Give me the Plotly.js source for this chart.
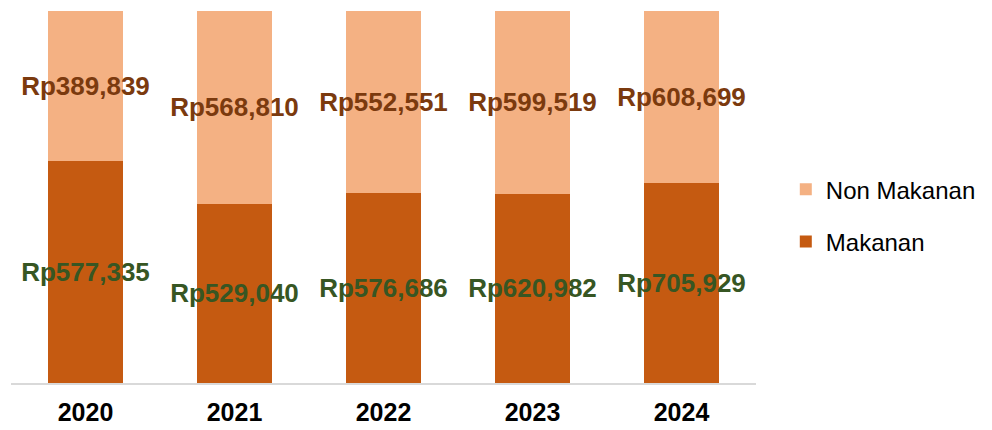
<!DOCTYPE html>
<html>
<head>
<meta charset="utf-8">
<script src="https://cdn.plot.ly/plotly-3.0.1.min.js"></script>
<style>html,body{margin:0;padding:0;background:#fff;}#chart{width:992px;height:430px;}</style>
</head>
<body>
<div id="chart"></div>
<script>
const years = ['2020', '2021', '2022', '2023', '2024'];
const makanan = [577335, 529040, 576686, 620982, 705929];
const nonMakanan = [389839, 568810, 552551, 599519, 608699];

const fmt = v => 'Rp' + v.toLocaleString('en-US');

const traces = [
  {
    type: 'bar', name: 'Makanan', x: years, y: makanan,
    marker: {color: '#C55A11'},
    text: makanan.map(fmt), textposition: 'inside', insidetextanchor: 'middle',
    textangle: 0, constraintext: 'none',
    textfont: {family: 'Liberation Sans, Arial, sans-serif', size: 26, color: '#375623', weight: 'bold'},
    hoverinfo: 'x+text', legendgroup: 'b', legendrank: 2
  },
  {
    type: 'bar', name: 'Non Makanan', x: years, y: nonMakanan,
    marker: {color: '#F4B183'},
    text: nonMakanan.map(fmt), textposition: 'inside', insidetextanchor: 'middle',
    textangle: 0, constraintext: 'none',
    textfont: {family: 'Liberation Sans, Arial, sans-serif', size: 26, color: '#7B3A0E', weight: 'bold'},
    hoverinfo: 'x+text', legendgroup: 'a', legendrank: 1
  }
];

const layout = {
  width: 992, height: 430,
  margin: {l: 11, r: 236, t: 11, b: 47},
  barmode: 'stack', barnorm: 'percent', bargap: 0.5,
  paper_bgcolor: '#ffffff', plot_bgcolor: '#ffffff',
  font: {family: 'Liberation Sans, Arial, sans-serif', color: '#000'},
  xaxis: {
    type: 'category', showline: true, linecolor: '#d9d9d9', linewidth: 1.5,
    ticks: '', showgrid: false, ticklabelstandoff: 6,
    tickfont: {size: 25, color: '#000', weight: 'bold'}
  },
  yaxis: {range: [0, 100], visible: false, showgrid: false, zeroline: false},
  showlegend: true,
  legend: {
    x: 1.04, y: 0.45, xanchor: 'left', yanchor: 'middle',
    traceorder: 'grouped', tracegroupgap: 18,
    font: {size: 24, color: '#000'}, itemwidth: 30
  }
};

Plotly.newPlot('chart', traces, layout, {displayModeBar: false, staticPlot: true});
</script>
</body>
</html>
